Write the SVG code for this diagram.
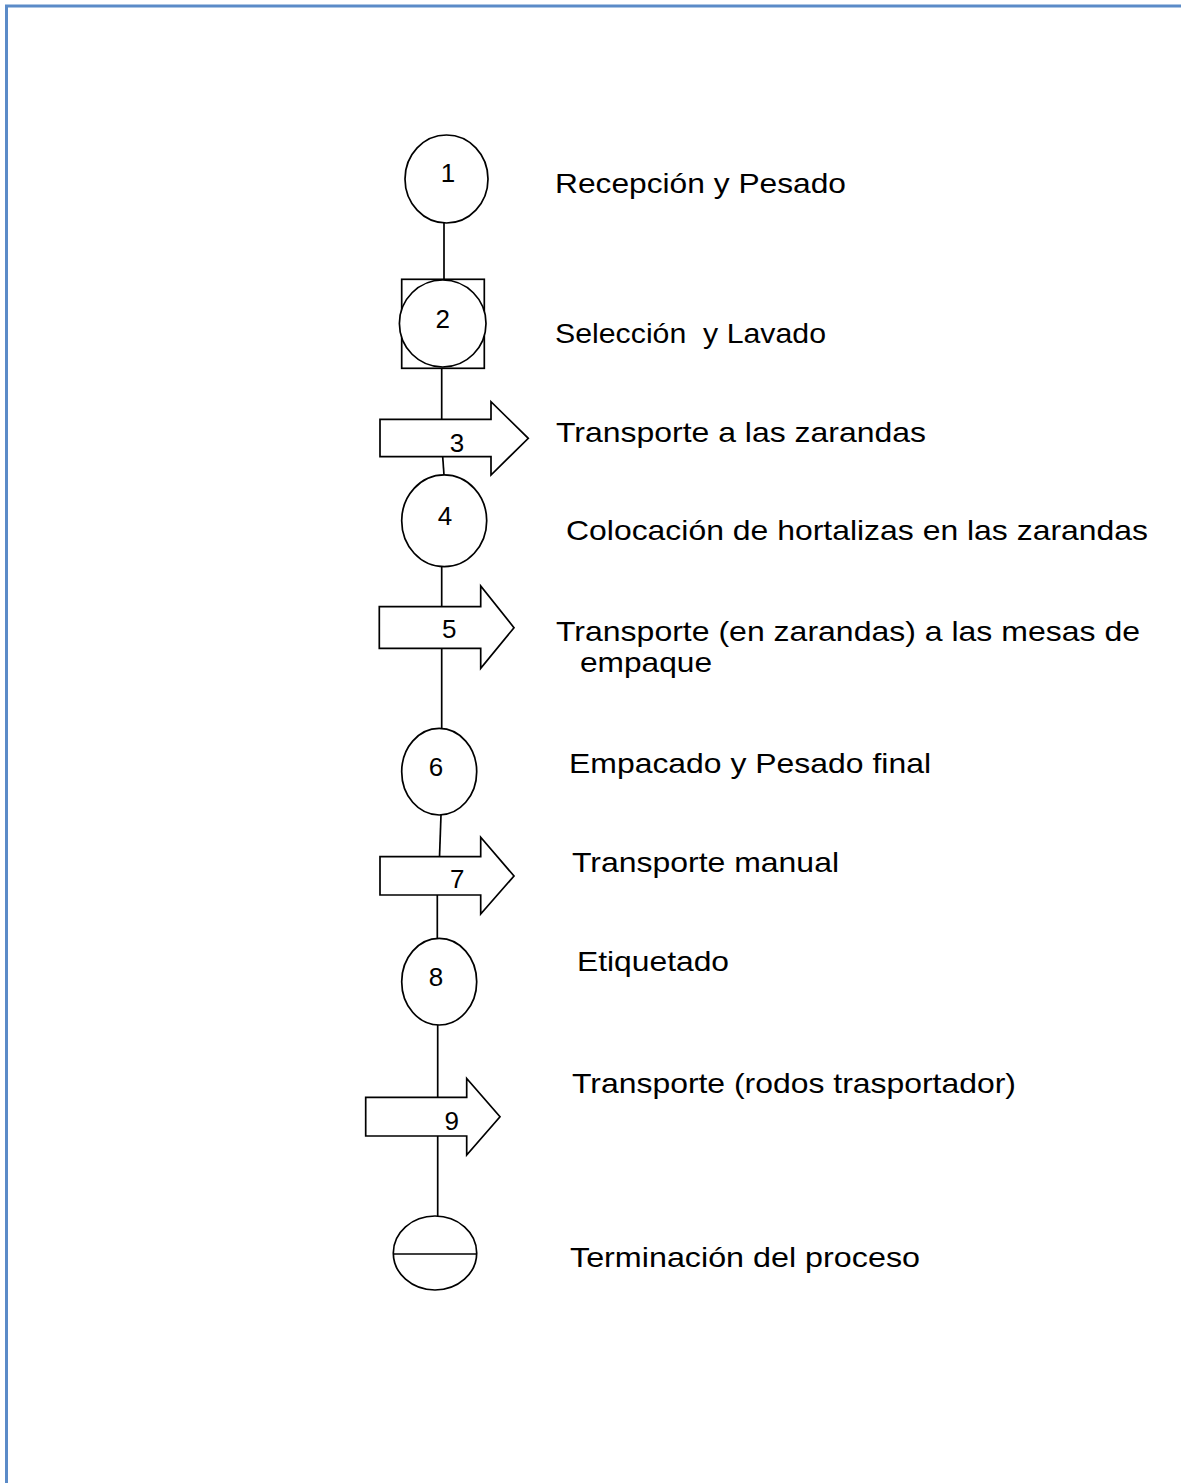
<svg xmlns="http://www.w3.org/2000/svg" width="1181" height="1483" viewBox="0 0 1181 1483">
  <style>
    .shape { fill: #ffffff; stroke: #000000; stroke-width: 1.7; }
    .conn { stroke: #000000; stroke-width: 1.7; fill: none; }
    .num { font-family: "Liberation Sans", Arial, sans-serif; font-size: 26px; fill: #000000; text-anchor: middle; }
    .label { font-family: "Liberation Sans", Arial, sans-serif; font-size: 28px; fill: #000000; white-space: pre; }
    .frame { stroke: #5b8bc8; stroke-width: 3; fill: none; }
  </style>
  <rect width="1181" height="1483" fill="#ffffff"/>

  <!-- page frame -->
  <g id="frame">
    <line class="frame" x1="5" y1="6" x2="1181" y2="6"/>
    <line class="frame" x1="6.5" y1="5" x2="6.5" y2="1483"/>
  </g>

  <!-- connectors between steps -->
  <g id="connectors">
    <line class="conn" x1="444" y1="223" x2="444" y2="279.3"/>
    <line class="conn" x1="441.7" y1="368.3" x2="441.7" y2="421"/>
    <line class="conn" x1="442.7" y1="456.7" x2="444" y2="475"/>
    <line class="conn" x1="441.7" y1="566.7" x2="441.7" y2="606.7"/>
    <line class="conn" x1="441.7" y1="648.3" x2="441.7" y2="728.3"/>
    <line class="conn" x1="441" y1="815" x2="439.5" y2="857"/>
    <line class="conn" x1="437.3" y1="891.7" x2="437.3" y2="938.3"/>
    <line class="conn" x1="437.7" y1="1025" x2="437.7" y2="1097.3"/>
    <line class="conn" x1="437.7" y1="1136" x2="437.7" y2="1216"/>
  </g>

  <!-- step 1: operation -->
  <g id="step1">
    <ellipse class="shape" cx="446.5" cy="179" rx="41.5" ry="44"/>
    <text class="num" x="448" y="181.5">1</text>
    <text class="label" x="555" y="193.3" textLength="291" lengthAdjust="spacingAndGlyphs">Recepción y Pesado</text>
  </g>

  <!-- step 2: combined operation / inspection -->
  <g id="step2">
    <rect class="shape" x="401.7" y="279.3" width="82.6" height="89"/>
    <ellipse class="shape" cx="442.7" cy="323.5" rx="43.3" ry="43.5"/>
    <text class="num" x="442.7" y="327.5">2</text>
    <text class="label" x="555" y="343" textLength="271" lengthAdjust="spacingAndGlyphs">Selección  y Lavado</text>
  </g>

  <!-- step 3: transport -->
  <g id="step3">
    <path class="shape" d="M380,419.3 H491 V401.7 L528.3,438.3 L491,475 V456.7 H380 Z"/>
    <text class="num" x="457" y="451.5">3</text>
    <text class="label" x="556" y="442" textLength="370" lengthAdjust="spacingAndGlyphs">Transporte a las zarandas</text>
  </g>

  <!-- step 4: operation -->
  <g id="step4">
    <ellipse class="shape" cx="444.2" cy="520.8" rx="42.5" ry="45.9"/>
    <text class="num" x="445" y="524.5">4</text>
    <text class="label" x="566" y="540" textLength="582" lengthAdjust="spacingAndGlyphs">Colocación de hortalizas en las zarandas</text>
  </g>

  <!-- step 5: transport -->
  <g id="step5">
    <path class="shape" d="M379.3,606.7 H480.7 V586 L514,627.7 L480.7,668.3 V648.3 H379.3 Z"/>
    <text class="num" x="449.3" y="637.5">5</text>
    <text class="label" x="556" y="641" textLength="584" lengthAdjust="spacingAndGlyphs">Transporte (en zarandas) a las mesas de</text>
    <text class="label" x="580" y="672" textLength="132" lengthAdjust="spacingAndGlyphs">empaque</text>
  </g>

  <!-- step 6: operation -->
  <g id="step6">
    <ellipse class="shape" cx="439.2" cy="771.7" rx="37.5" ry="43.3"/>
    <text class="num" x="436" y="775.5">6</text>
    <text class="label" x="569" y="773" textLength="362" lengthAdjust="spacingAndGlyphs">Empacado y Pesado final</text>
  </g>

  <!-- step 7: transport -->
  <g id="step7">
    <path class="shape" d="M380,856.7 H480.7 V837.3 L514,876 L480.7,914 V895 H380 Z"/>
    <text class="num" x="457.3" y="887.5">7</text>
    <text class="label" x="572" y="872" textLength="267" lengthAdjust="spacingAndGlyphs">Transporte manual</text>
  </g>

  <!-- step 8: operation -->
  <g id="step8">
    <ellipse class="shape" cx="439.2" cy="981.7" rx="37.5" ry="43.3"/>
    <text class="num" x="436" y="986">8</text>
    <text class="label" x="577" y="971" textLength="152" lengthAdjust="spacingAndGlyphs">Etiquetado</text>
  </g>

  <!-- step 9: transport -->
  <g id="step9">
    <path class="shape" d="M365.7,1097.3 H466.7 V1078.4 L500,1116.7 L466.7,1155 V1136 H365.7 Z"/>
    <text class="num" x="451.7" y="1129.5">9</text>
    <text class="label" x="572" y="1093" textLength="444" lengthAdjust="spacingAndGlyphs">Transporte (rodos trasportador)</text>
  </g>

  <!-- end of process -->
  <g id="end">
    <ellipse class="shape" cx="435" cy="1253" rx="41.7" ry="37"/>
    <line class="conn" x1="393.3" y1="1254" x2="476.7" y2="1254"/>
    <text class="label" x="570" y="1267" textLength="350" lengthAdjust="spacingAndGlyphs">Terminación del proceso</text>
  </g>
</svg>
